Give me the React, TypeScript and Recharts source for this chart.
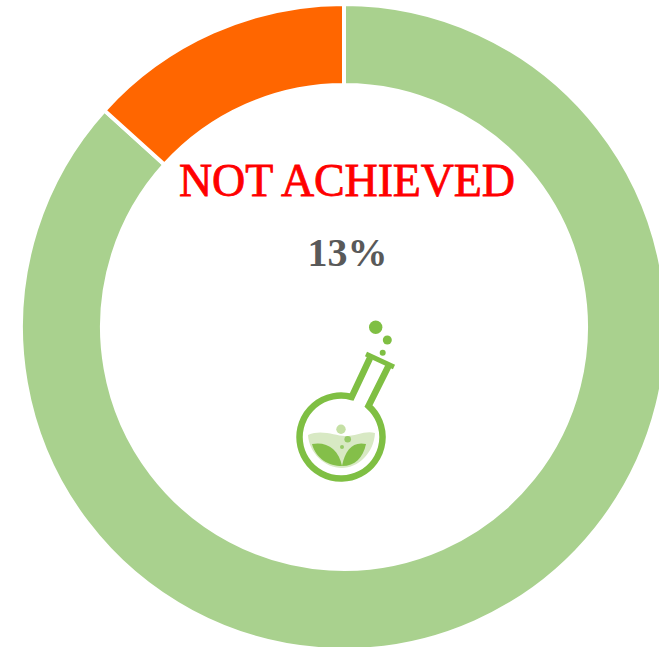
import { PieChart, Pie, Cell } from "recharts";

const SEGMENTS = ["Achieved", "Not achieved"];
const VALUES = [86.7, 13.3];
const COLORS = ["#a9d18e", "#ff6600"];
const STATUS_LABEL = "NOT ACHIEVED";
const PERCENT_LABEL = "13%";

const chartData = SEGMENTS.map((name, i) => ({ name, value: VALUES[i] }));

const SERIF = "'Liberation Serif', serif";

// flask logo in the middle of the ring
function FlaskLogo() {
  const green = "#7fbf43";
  return (
    <g>
      <path d="M308 435 C322 429 335 436 345 436 C356 436 366 430 375 433 C374 453 358 468 342 468 C325 468 309 453 308 435 Z" fill="#d8e9c4" />
      <path d="M312 444 C326 441 339 449 342 466 C329 466 316 459 312 444 Z" fill="#84bf49" />
      <path d="M366 444 C353 441 345 450 342 466 C355 466 363 458 366 444 Z" fill="#84bf49" />
      <path
        d="M370 358 L351.7 397 A41.5 41.5 0 1 0 368.5 406 L389 365"
        fill="none"
        stroke={green}
        strokeWidth={6.5}
      />
      <path d="M366 354 L394 367" fill="none" stroke={green} strokeWidth={5} />
      <circle cx={375.7} cy={327.3} r={6.7} fill={green} />
      <circle cx={387.3} cy={340} r={4.5} fill={green} />
      <circle cx={382.7} cy={352.7} r={3} fill={green} />
      <circle cx={341} cy={429.3} r={4.7} fill="#c5e0a5" />
      <circle cx={347.7} cy={439.3} r={3.3} fill="#97ca68" />
      <circle cx={342} cy={447} r={2} fill="#97ca68" />
    </g>
  );
}

export default function App() {
  return (
    <div style={{ position: "absolute", left: 0, top: 0, width: 659, height: 647, overflow: "hidden" }}>
      <PieChart width={659} height={647} margin={{ top: 0, right: 0, bottom: 0, left: 0 }}>
        <Pie
          data={chartData}
          dataKey="value"
          nameKey="name"
          cx={344}
          cy={327}
          innerRadius={242}
          outerRadius={323}
          startAngle={90}
          endAngle={-270}
          stroke="#ffffff"
          strokeWidth={4}
          isAnimationActive={false}
        >
          {chartData.map((d, i) => (
            <Cell key={d.name} fill={COLORS[i]} />
          ))}
        </Pie>
        <text
          x={347}
          y={196}
          textAnchor="middle"
          fontFamily={SERIF}
          fontSize={46}
          fill="#ff0000"
          stroke="#ff0000"
          strokeWidth={0.8}
          textLength={336}
        >
          {STATUS_LABEL}
        </text>
        <text x={347.5} y={266} textAnchor="middle" fontFamily={SERIF} fontSize={40} fontWeight={700} fill="#595959">
          {PERCENT_LABEL}
        </text>
        <FlaskLogo />
      </PieChart>
    </div>
  );
}
